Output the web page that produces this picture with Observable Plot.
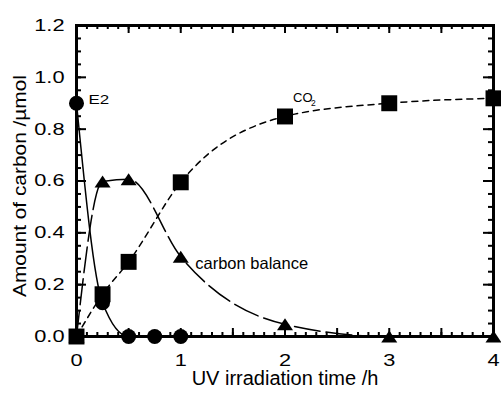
<!DOCTYPE html>
<html><head><meta charset="utf-8">
<script src="https://cdn.jsdelivr.net/npm/d3@7"></script>
<script src="https://cdn.jsdelivr.net/npm/@observablehq/plot@0.6"></script>
<style>
body{margin:0;background:#fff}
</style>
</head><body><div id="chart"></div>
<script>
// ---- data ----
const e2Time = [0, 0.25, 0.5, 0.75, 1];
const e2Amount = [0.90, 0.13, 0, 0, 0];
const co2Time = [0, 0.25, 0.5, 1, 2, 3, 4];
const co2Amount = [0, 0.163, 0.288, 0.595, 0.849, 0.90, 0.919];
const balTime = [0, 0.25, 0.5, 1, 2, 3, 4];
const balAmount = [0, 0.598, 0.607, 0.308, 0.047, 0, 0];
const xTicks = [0, 1, 2, 3, 4];
const yTicks = [0, 0.2, 0.4, 0.6, 0.8, 1.0, 1.2];
const xLabel = "UV irradiation time /h";
const yLabel = "Amount of carbon /µmol";
const e2Name = "E2";
const co2Name = "CO";
const co2Sub = "2";
const balName = "carbon balance";

// layout
const W = 501, H = 393, ML = 76, MR = 8, MT = 25, MB = 57;
const FW = W - ML - MR, FH = H - MT - MB;

// tick positions
const xMinor = d3.range(0, 41).map(i => i / 10);
const yMinor = d3.range(0, 25).map(i => i / 20);
const xMid = xMinor.filter(v => Math.abs(v * 2 - Math.round(v * 2)) < 1e-9);

const flatTriangle = {draw(ctx, size) {
  const k = Math.sqrt(size / Math.PI) / 6;
  const w = 8 * k, h = 6 * k;
  ctx.moveTo(0, -h); ctx.lineTo(w, h); ctx.lineTo(-w, h); ctx.closePath();
}};

const chart = Plot.plot({
  width: W, height: H,
  marginLeft: ML, marginRight: MR, marginTop: MT, marginBottom: MB,
  x: {domain: [0, 4]},
  y: {domain: [0, 1.2]},
  style: {fontFamily: '"Liberation Sans", Arial, sans-serif', background: "white"},
  marks: [
    Plot.frame({stroke: "black", strokeWidth: 3}),
    Plot.tickX(xMinor, {x: d => d, insetTop: FH - 4, stroke: "black", strokeWidth: 2}),
    Plot.tickX(xMid, {x: d => d, insetTop: FH - 8, stroke: "black", strokeWidth: 2}),
    Plot.tickX(xMinor, {x: d => d, insetBottom: FH - 4, stroke: "black", strokeWidth: 2}),
    Plot.tickX(xMid, {x: d => d, insetBottom: FH - 8, stroke: "black", strokeWidth: 2}),
    Plot.tickY(yMinor, {y: d => d, insetRight: FW - 5, stroke: "black", strokeWidth: 2}),
    Plot.tickY(yTicks, {y: d => d, insetRight: FW - 10, stroke: "black", strokeWidth: 2}),
    Plot.tickY(yMinor, {y: d => d, insetLeft: FW - 5, stroke: "black", strokeWidth: 2}),
    Plot.tickY(yTicks, {y: d => d, insetLeft: FW - 10, stroke: "black", strokeWidth: 2}),
    Plot.axisX(xTicks, {anchor: "bottom", tickSize: 0, tickPadding: 17, fontSize: 17, label: null, tickFormat: d3.format("d")}),
    Plot.axisY(yTicks, {anchor: "left", tickSize: 0, tickPadding: 12, fontSize: 17, label: null, tickFormat: d3.format(".1f")}),
    Plot.line(co2Amount, {x: co2Time, y: co2Amount, curve: "monotone-x", stroke: "black", strokeWidth: 1.5, strokeDasharray: "6,5"}),
    Plot.line(balAmount, {x: balTime, y: balAmount, curve: "monotone-x", stroke: "black", strokeWidth: 1.5, strokeDasharray: "26,6"}),
    Plot.line(e2Amount, {x: e2Time, y: e2Amount, curve: "monotone-x", stroke: "black", strokeWidth: 1.5}),
    Plot.dot(balAmount, {x: balTime, y: balAmount, symbol: flatTriangle, r: 6, fill: "black"}),
    Plot.dot(co2Amount, {x: co2Time, y: co2Amount, symbol: "square", r: 9, fill: "black"}),
    Plot.dot(e2Amount, {x: e2Time, y: e2Amount, symbol: "circle", r: 7.5, fill: "black"}),
    Plot.text([e2Name], {x: [e2Time[0]], y: [e2Amount[0]], text: d => d, dx: 12, dy: -3, textAnchor: "start", fontSize: 13, fill: "black"}),
    Plot.text([co2Name], {x: [co2Time[4]], y: [co2Amount[4]], text: d => d, dx: 8, dy: -19, textAnchor: "start", fontSize: 13, fill: "black"}),
    Plot.text([co2Sub], {x: [co2Time[4]], y: [co2Amount[4]], text: d => d, dx: 26, dy: -13, textAnchor: "start", fontSize: 8.5, fill: "black"}),
    Plot.text([balName], {x: [balTime[3]], y: [balAmount[3]], text: d => d, dx: 14.5, dy: 7, textAnchor: "start", fontSize: 16.5, fill: "black"}),
    Plot.text([xLabel], {frameAnchor: "bottom", text: d => d, dy: 48, fontSize: 20, fill: "black"}),
    Plot.text([yLabel], {frameAnchor: "left", text: d => d, rotate: -90, textAnchor: "start", dx: -56, dy: 116, fontSize: 18, fill: "black"})
  ]
});
document.getElementById("chart").appendChild(chart);

// widen glyphs of some labels to match the reference lettering
function stretchText(t, factor) {
  const L = t.getComputedTextLength();
  t.setAttribute("textLength", (L * factor).toFixed(1));
  t.setAttribute("lengthAdjust", "spacingAndGlyphs");
}
chart.querySelectorAll('[aria-label*="tick label"] text').forEach(t => stretchText(t, 1.28));
chart.querySelectorAll("text").forEach(t => {
  if (t.textContent === e2Name) stretchText(t, 1.3);
  if (t.textContent === yLabel) stretchText(t, 222 / t.getComputedTextLength());
});
</script>
</body></html>
